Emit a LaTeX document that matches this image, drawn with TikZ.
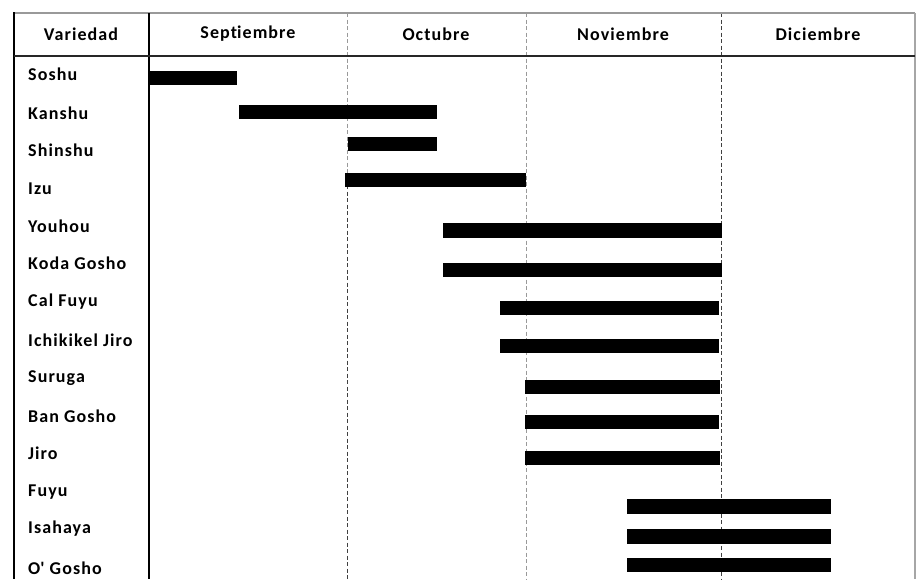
\documentclass[tikz,border=0pt]{standalone}
\usepackage{fontspec}
\setmainfont{Carlito}[LetterSpace=6,Ligatures={NoCommon,NoRequired,NoContextual}]
\begin{document}
\begin{tikzpicture}[x=1pt,y=-1pt,
  lbl/.style={font=\bfseries\fontsize{18}{20}\selectfont, anchor=west, inner sep=0pt},
  hdr/.style={font=\bfseries\fontsize{18}{20}\selectfont, inner sep=0pt},
  bar/.style={fill=black, draw=none},
  sep/.style={draw=gray!80, line width=1pt, dash pattern=on 4pt off 2.5pt},
  sepdark/.style={draw=black!75, line width=1pt, dash pattern=on 4pt off 2.5pt}]
\useasboundingbox (0,0) rectangle (918,579);
% month separators
\draw[sep] (347.5,13) -- (347.5,185);
\draw[sepdark] (347.5,185) -- (347.5,579);
\draw[sep] (526,13) -- (526,579);
\draw[sepdark] (721,13) -- (721,579);
% frame
\draw[gray!80, line width=2pt] (14,13) -- (915,13);
\draw[gray!70, line width=1.6pt] (915,13) -- (915,579);
\draw[black, line width=1.2pt] (14,12) -- (14,579);
\draw[black, line width=1.2pt] (149,13) -- (149,579);
\draw[black!85, line width=1.3pt] (14,56) -- (915,56);
% headers
\node[hdr] (hv) at (81,34) {Variedad};
\node[hdr] (hs) at (248,34) {Sept\kern0pt iembre};
\node[hdr] (ho) at (436,34) {Octubre};
\node[hdr] (hn) at (623,34) {Noviembre};
\node[hdr] (hd) at (818,34) {Diciembre};
% labels
\node[lbl] (l1) at (28,74) {Soshu};
\node[lbl] (l2) at (28,113) {Kanshu};
\node[lbl] (l3) at (28,150) {Shinshu};
\node[lbl] (l4) at (28,189) {Izu};
\node[lbl] (l5) at (28,226) {Youhou};
\node[lbl] (l6) at (28,263) {Koda Gosho};
\node[lbl] (l7) at (28,302) {Cal Fuyu};
\node[lbl] (l8) at (28,340) {Ichikikel Jiro};
\node[lbl] (l9) at (28,378) {Suruga};
\node[lbl] (l10) at (28,416) {Ban Gosho};
\node[lbl] (l11) at (28,453) {Jiro};
\node[lbl] (l12) at (28,492) {Fuyu};
\node[lbl] (l13) at (28,529) {Isahaya};
\node[lbl] (l14) at (28,568) {O\textquotesingle{} Gosho};
% bars
\fill[bar] (149,71) rectangle (237,85);
\fill[bar] (239,105) rectangle (437,119);
\fill[bar] (348,137) rectangle (437,151);
\fill[bar] (345,173) rectangle (526,187);
\fill[bar] (443,223) rectangle (722,238);
\fill[bar] (443,263) rectangle (722,277);
\fill[bar] (500,301) rectangle (719,315);
\fill[bar] (500,339) rectangle (719,353);
\fill[bar] (525,380) rectangle (720,394);
\fill[bar] (525,415) rectangle (719,429);
\fill[bar] (525,451) rectangle (720,465);
\fill[bar] (627,499) rectangle (831,514);
\fill[bar] (627,529) rectangle (831,544);
\fill[bar] (627,558) rectangle (831,572);
\end{tikzpicture}
\end{document}
